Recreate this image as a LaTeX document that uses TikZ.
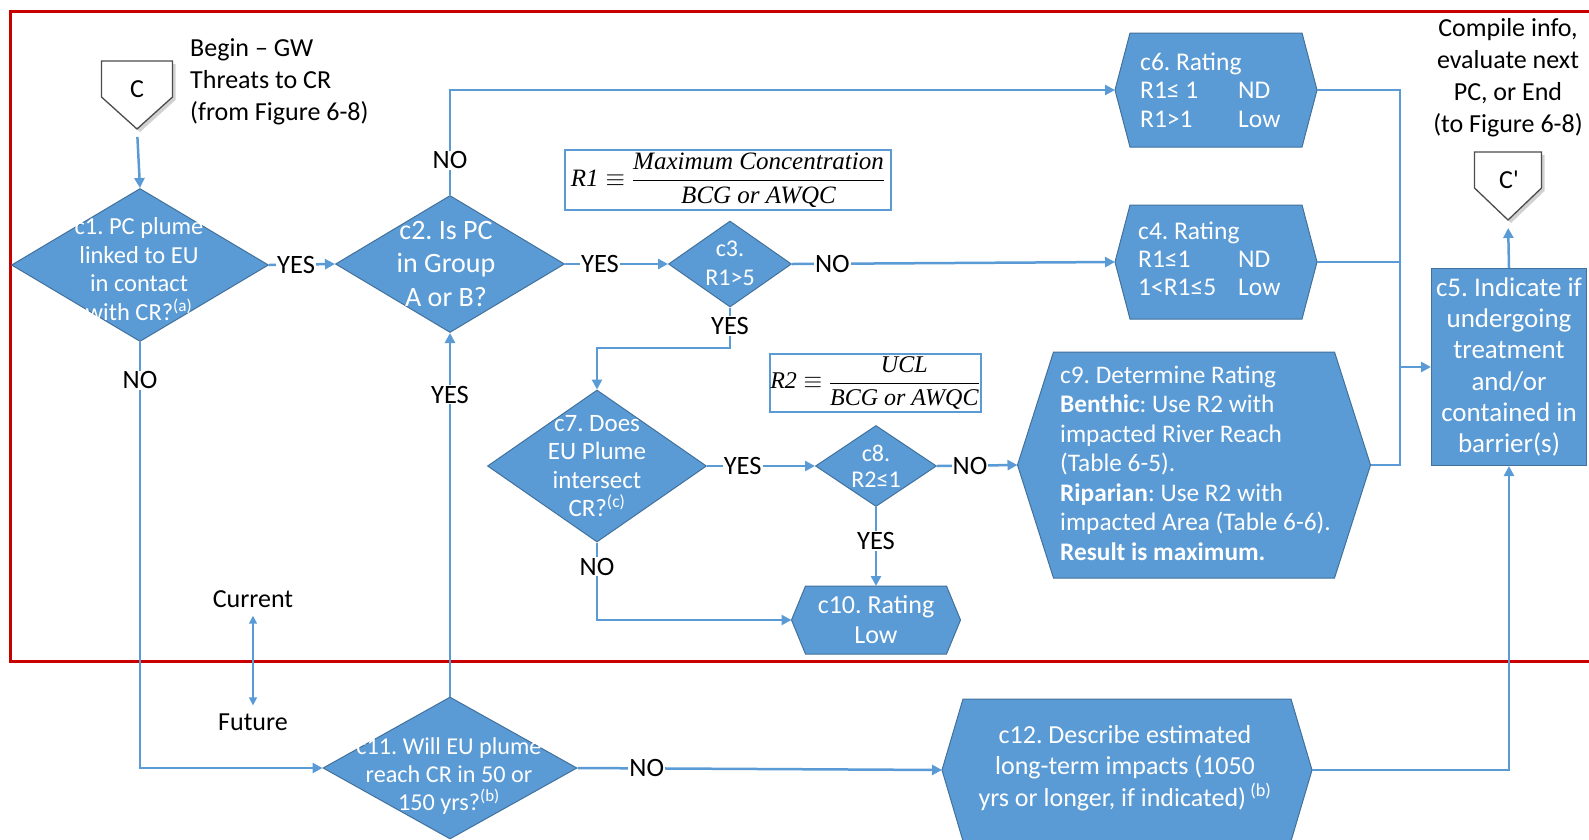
\RequirePackage{fix-cm}
\documentclass[tikz,border=0pt]{standalone}
\usepackage{fontspec}
\setmainfont{Carlito}
\newfontfamily\fml{Liberation Serif}
\usetikzlibrary{arrows.meta,shapes.geometric}
\frenchspacing

\definecolor{fillblue}{HTML}{5B9BD5}
\definecolor{edgeblue}{HTML}{41719C}
\definecolor{linkblue}{HTML}{5B9BD5}
\definecolor{framered}{HTML}{C80000}

\newcommand{\fs}[2]{\fontsize{#1}{#2}\selectfont}
\newcommand{\fit}[1]{\mbox{\fml\itshape #1}}
% six-sided rating box drawn round a named rectangle node
\newcommand{\hexbox}[2]{%
  \filldraw[fill=fillblue, draw=edgeblue, line width=1pt]
    (#1.west) -- ([xshift=#2]#1.north west) -- ([xshift=-#2]#1.north east)
    -- (#1.east) -- ([xshift=-#2]#1.south east) -- ([xshift=#2]#1.south west) -- cycle;}
% off-page connector pentagon drawn round a named rectangle node
\newcommand{\connbox}[1]{%
  \fill[black!18] ([xshift=3pt,yshift=-3pt]#1.north west) -- ([xshift=3pt,yshift=-3pt]#1.north east)
    -- ([xshift=3pt,yshift=29pt]#1.south east) -- ([xshift=3pt,yshift=-3pt]#1.south)
    -- ([xshift=3pt,yshift=29pt]#1.south west) -- cycle;
  \filldraw[fill=white, draw=black!70, line width=1.3pt]
    (#1.north west) -- (#1.north east) -- ([yshift=32pt]#1.south east)
    -- (#1.south) -- ([yshift=32pt]#1.south west) -- cycle;}

\begin{document}
\begin{tikzpicture}[x=1pt,y=-1pt,
  dia/.style={diamond, fill=fillblue, draw=edgeblue, line width=1pt, inner sep=0pt},
  area/.style={rectangle, inner sep=0pt, outer sep=0pt},
  rectbox/.style={rectangle, fill=fillblue, draw=edgeblue, line width=1pt, inner sep=0pt},
  inw/.style={text=white, align=center, inner sep=0pt},
  inwl/.style={text=white, align=left, inner sep=0pt, anchor=west},
  plain/.style={text=black, align=center, inner sep=0pt, font=\fs{26}{32}},
  lbl/.style={fill=white, text=black, inner sep=1pt, font=\fs{26.5}{30}},
  link/.style={draw=linkblue, line width=2.5pt},
  arr/.style={link, -{Triangle[length=10pt,width=10pt]}},
  fbox/.style={rectangle, draw=linkblue, line width=2pt, fill=white, inner xsep=4pt, inner ysep=0pt}]

\useasboundingbox (0,0) rectangle (1589,839);
\fill[white] (0,0) rectangle (1589,839);

% frame round the current-conditions part
\draw[framered, line width=3pt] (1600,11) -- (10,11) -- (10,661) -- (1600,661);

% connector pentagons
\node[area, minimum width=71pt, minimum height=68pt] (C) at (137,95) {};
\connbox{C}
\node[inner sep=0pt, font=\fs{26}{28}] (Ct) at (137,89) {C};
\node[area, minimum width=67pt, minimum height=68pt] (Cp) at (1508,186) {};
\connbox{Cp}
\node[inner sep=0pt, font=\fs{26}{28}] (Cpt) at (1509,180) {C{\addfontfeatures{Ligatures=TeXOff}'}};

% decision diamonds
\node[dia, minimum width=257pt, minimum height=153pt] (c1) at (140,265) {};
\node[dia, minimum width=229pt, minimum height=137pt] (c2) at (450,264) {};
\node[dia, minimum width=123pt, minimum height=86pt] (c3) at (730,264) {};
\node[dia, minimum width=219pt, minimum height=152pt] (c7) at (597,466) {};
\node[dia, minimum width=121pt, minimum height=81pt] (c8) at (876,466) {};
\node[dia, minimum width=254pt, minimum height=142pt] (c11) at (450,768) {};

% rating boxes
\node[area, minimum width=202pt, minimum height=114pt] (c6) at (1216,90) {};
\hexbox{c6}{15pt}
\node[area, minimum width=202pt, minimum height=114pt] (c4) at (1216,262) {};
\hexbox{c4}{15pt}
\node[area, minimum width=353pt, minimum height=226pt] (c9) at (1194,465) {};
\hexbox{c9}{36pt}
\node[area, minimum width=169pt, minimum height=68pt] (c10) at (876,620) {};
\hexbox{c10}{14pt}
\node[area, minimum width=370pt, minimum height=142pt] (c12) at (1127,770) {};
\hexbox{c12}{21pt}
\node[rectbox, minimum width=155pt, minimum height=197pt] (c5) at (1509,367) {};

% texts inside the shapes
\node[inw, font=\fs{24.5}{28.5}] (c1t) at (139,269) {c1. PC plume\\linked to EU\\in contact\\with CR?\textsuperscript{(a)}};
\node[inw, font=\fs{28}{33.5}] (c2t) at (446,264) {c2. Is PC\\in Group\\A or B?};
\node[inw, font=\fs{24}{29}] (c3t) at (730,263) {c3.\\R1>5};
\node[inw, font=\fs{25}{28.5}] (c7t) at (597,466) {c7. Does\\EU Plume\\intersect\\CR?\textsuperscript{(c)}};
\node[inw, font=\fs{24}{26}] (c8t) at (876,466) {c8.\\R2≤1};
\node[inw, font=\fs{24.2}{28}] (c11t) at (449,776) {c11. Will EU plume\\reach CR in 50 or\\150 yrs?\textsuperscript{(b)}};
\node[inwl, font=\fs{25.5}{28.5}] (c6t) at (1140,90) {c6. Rating\\\makebox[98pt][l]{R1≤ 1}ND\\\makebox[98pt][l]{R1>1}Low};
\node[inwl, font=\fs{25.5}{28}] (c4t) at (1138,259) {c4. Rating\\\makebox[100pt][l]{R1≤1}ND\\\makebox[100pt][l]{1<R1≤5}Low};
\node[inwl, font=\fs{25.3}{29.5}] (c9t) at (1060,463) {c9. Determine Rating\\\textbf{Benthic}: Use R2 with\\impacted River Reach\\(Table 6-5).\\\textbf{Riparian}: Use R2 with\\impacted Area (Table 6-6).\\\textbf{Result is maximum.}};
\node[inw, font=\fs{26}{30}] (c10t) at (876,620) {c10. Rating\\Low};
\node[inw, font=\fs{26}{31.5}] (c12t) at (1125,768) {c12. Describe estimated\\long-term impacts (1050\\yrs or longer, if indicated)\,\textsuperscript{(b)}};
\node[inw, font=\fs{27}{31.2}] (c5t) at (1509,367) {c5. Indicate if\\undergoing\\treatment\\and/or\\contained in\\barrier(s)};

% ratio definitions
\node[fbox, font=\fs{25}{29}, minimum width=326pt, minimum height=60pt] (r1) at (728,180)
  {$\fit{R1}\equiv{\displaystyle\frac{\fit{Maximum Concentration}}{\fit{BCG or AWQC}}}$};
\node[fbox, font=\fs{24}{28}, minimum width=211pt, minimum height=58pt, inner xsep=0pt] (r2) at (875,383)
  {$\fit{R2}\equiv{\displaystyle\frac{\fit{UCL}}{\fit{BCG or AWQC}}}$};

% free texts
\node[plain, align=left, anchor=west] (begin) at (190,82) {Begin – GW\\Threats to CR\\(from Figure 6-8)};
\node[plain] (compile) at (1508,78) {Compile info,\\evaluate next\\PC, or End\\(to Figure 6-8)};
\node[plain] (cur) at (253,599) {Current};
\node[plain] (fut) at (253,722) {Future};

% connectors
\draw[arr, shorten <=8pt] (C.south) -- (c1.north);
\draw[arr] (c1.east) -- node[lbl, pos=0.41] (y1) {YES} (c2.west);
\draw[arr] (c2.north) -- node[lbl, pos=0.33] (n2) {NO} (c2.north |- c6.west) -- (c6.west);
\draw[arr] (c2.east) -- node[lbl, pos=0.34] (y2) {YES} (c3.west);
\draw[arr] (c3.east) -- node[lbl, pos=0.125] (n3) {NO} (c4.west);
\coordinate (k3) at (730,348);
\draw[arr] (c3.south) -- node[lbl, pos=0.46] (y3) {YES} (k3) -| (c7.north);
\draw[arr] (c7.east) -- node[lbl, pos=0.33] (y7) {YES} (c8.west);
\draw[arr] (c7.south) -- node[lbl, pos=0.31] (n7) {NO} (c7.south |- c10.west) -- (c10.west);
\draw[arr] (c8.east) -- node[lbl, pos=0.41] (n8) {NO} (c9.west);
\draw[arr] (c8.south) -- node[lbl, pos=0.43] (y8) {YES} (c10.north);
\coordinate (bus) at (1400,367);
\draw[link] (c6.east) -| (bus);
\draw[link] (c4.east) -| (bus);
\draw[link] (c9.east) -| (bus);
\draw[arr] (bus) -- (c5.west);
\draw[arr, shorten >=8pt] (c5.north) -- (Cp.south);
\draw[arr] (c1.south) -- node[lbl, pos=0.09] (n1) {NO} (c1.south |- c11.west) -- (c11.west);
\draw[arr] (c11.north) -- node[lbl, pos=0.83] (y11) {YES} (c2.south);
\draw[arr] (c11.east) -- node[lbl, pos=0.19] (n11) {NO} (c12.west);
\draw[arr] (c12.east) -| (c5.south);
\draw[draw=linkblue, line width=1.5pt, {Triangle[length=8pt,width=8pt]}-{Triangle[length=8pt,width=8pt]},
  shorten <=8pt, shorten >=8pt] (cur.south) -- (fut.north);
\end{tikzpicture}
\end{document}
